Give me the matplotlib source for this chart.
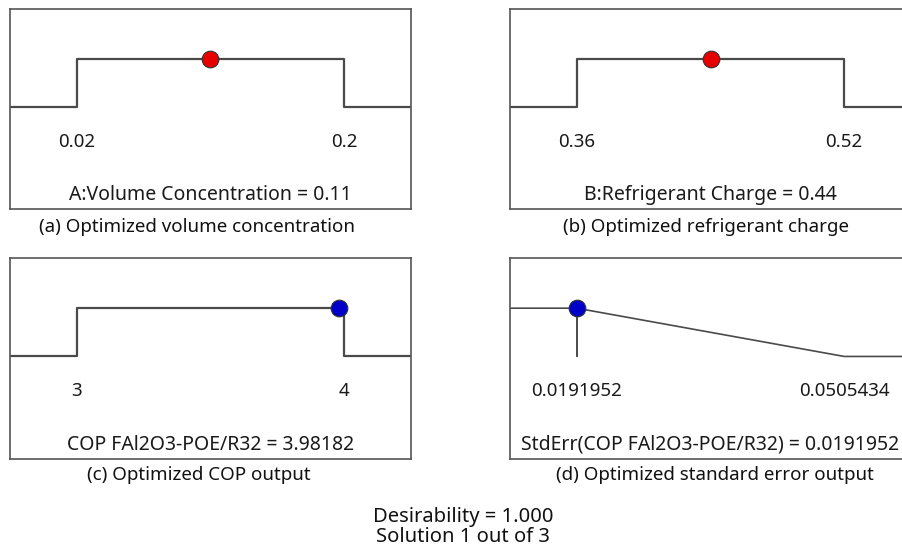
import matplotlib
matplotlib.use("Agg")
import matplotlib.pyplot as plt

plt.rcParams['font.family'] = ['Noto Sans', 'DejaVu Sans']

# optimisation ramps: factor / response limits and the chosen solution
names = ["A:Volume Concentration", "B:Refrigerant Charge",
         "COP FAl2O3-POE/R32", "StdErr(COP FAl2O3-POE/R32)"]
low = [0.02, 0.36, 3, 0.0191952]
high = [0.2, 0.52, 4, 0.0505434]
low_labels = ["0.02", "0.36", "3", "0.0191952"]
high_labels = ["0.2", "0.52", "4", "0.0505434"]
solution = [0.11, 0.44, 3.98182, 0.0191952]
solution_labels = ["0.11", "0.44", "3.98182", "0.0191952"]
goals = ["range", "range", "range", "minimize"]
captions = ["(a) Optimized volume concentration",
            "(b) Optimized refrigerant charge",
            "(c) Optimized COP output",
            "(d) Optimized standard error output"]
dot_colors = ["#e60000", "#e60000", "#0000c8", "#0000c8"]
desirability = "1.000"
solution_no, n_solutions = 1, 3

W, H = 903, 553
fig = plt.figure(figsize=(W / 100, H / 100), dpi=100)

# pixel boxes (left, top, width, height)
boxes = [(10, 9, 401, 200), (510, 9, 401, 200),
         (10, 258, 401, 201), (510, 258, 401, 201)]
cap_x = [197, 706, 199, 715]
cap_y = [227, 227, 475, 475]

line_c = "#4a4a4a"
for i in range(4):
    l, t, w, h = boxes[i]
    ax = fig.add_axes([l / W, 1 - (t + h) / H, w / W, h / H])
    span = high[i] - low[i]
    x0, x1 = low[i] - 0.25 * span, high[i] + 0.25 * span
    ax.set_xlim(x0, x1)
    ax.set_ylim(-2.125, 2.04)
    if goals[i] == "range":
        xs = [x0, low[i], low[i], high[i], high[i], x1]
        ys = [0, 0, 1, 1, 0, 0]
        ax.plot(xs, ys, color=line_c, lw=1.6)
    else:
        ax.plot([x0, low[i], high[i], x1], [1, 1, 0, 0], color=line_c, lw=1.2)
        ax.plot([low[i], low[i]], [0, 1], color=line_c, lw=1.4)
    ax.plot([solution[i]], [1], 'o', ms=12, color=dot_colors[i],
            mec="#333333", mew=0.8, zorder=5)
    ax.text(low[i], -0.72, low_labels[i], ha='center', va='center',
            fontsize=13.5, color="#1a1a1a")
    ax.text(high[i], -0.72, high_labels[i], ha='center', va='center',
            fontsize=13.5, color="#1a1a1a")
    ax.text(0.5, 0.07, names[i] + " = " + solution_labels[i],
            transform=ax.transAxes, ha='center', va='center',
            fontsize=14, color="#1a1a1a")
    ax.set_xticks([])
    ax.set_yticks([])
    for s in ax.spines.values():
        s.set_color("#555555")
        s.set_linewidth(1.2)
    fig.text(cap_x[i] / W, 1 - cap_y[i] / H, captions[i], ha='center',
             va='center', fontsize=13.5, color="#111111")

fig.text(463 / W, 1 - 517 / H, "Desirability = " + desirability,
         ha='center', va='center', fontsize=14.5, color="#111111")
fig.text(463 / W, 1 - 537 / H,
         "Solution %d out of %d" % (solution_no, n_solutions),
         ha='center', va='center', fontsize=14.5, color="#111111")

fig.savefig("out.png", dpi=100)
